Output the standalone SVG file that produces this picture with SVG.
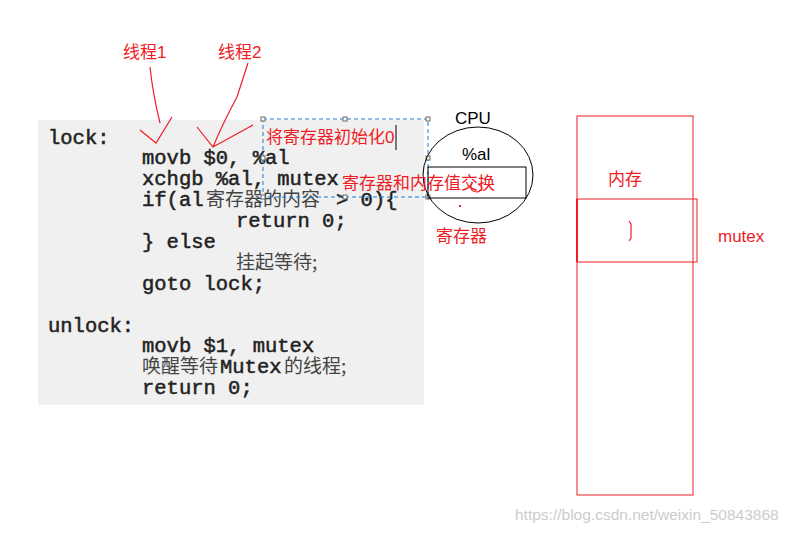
<svg xmlns="http://www.w3.org/2000/svg" width="797" height="534" viewBox="0 0 797 534">
<style>
.code{font-family:"Liberation Mono",monospace;font-size:20.5px;fill:#222;stroke:#222;stroke-width:0.5}
.cn{font-family:"Noto Sans CJK SC",sans-serif;font-size:19px;fill:#444}
.red{font-family:"Liberation Sans","Noto Sans CJK SC",sans-serif;font-size:17px;fill:#ee1c25}
.blk{font-family:"Liberation Sans",sans-serif;font-size:17px;fill:#000}
.rl{fill:none;stroke:#ee1c25;stroke-width:1.2}
.h{fill:#fff;stroke:#666;stroke-width:1}
</style>
<rect width="797" height="534" fill="#fff"/>
<g id="code">
<rect x="38" y="120" width="386" height="285" fill="#f0f0f0"/>
<text class="code" x="48" y="144">lock:</text>
<text class="code" x="142" y="164">movb $0, %al</text>
<text class="code" x="142" y="185">xchgb %al, mutex</text>
<text class="code" x="142" y="206">if(al</text>
<text class="cn" x="206" y="206">寄存器的内容</text>
<text class="code" x="336" y="206" fill="#666" stroke="#666">&gt; 0){</text>
<text class="code" x="236" y="227">return 0;</text>
<text class="code" x="142" y="248">} else</text>
<text class="cn" x="236" y="269">挂起等待;</text>
<text class="code" x="142" y="290">goto lock;</text>
<text class="code" x="48" y="332">unlock:</text>
<text class="code" x="142" y="352">movb $1, mutex</text>
<text class="cn" x="142" y="373">唤醒等待</text>
<text class="code" x="220" y="373">Mutex</text>
<text class="cn" x="284" y="373">的线程;</text>
<text class="code" x="142" y="394">return 0;</text>
</g>
<g id="threads">
<text class="red" x="123" y="58">线程1</text>
<text class="red" x="218" y="58">线程2</text>
</g>
<g id="connectors">
<path class="rl" d="M150 67 Q153 95 160 123 M140 130 L156 143 L172 117"/>
<path class="rl" d="M248 63 L237 97 Q222 125 213 147 M197 127 L213 147 L253 125"/>
</g>
<g id="selection">
<rect x="263" y="119" width="165" height="78" fill="none" stroke="#1a7ad4" stroke-dasharray="4,3"/>
<rect class="h" x="261" y="117" width="4" height="4"/><rect class="h" x="343" y="117" width="4" height="4"/><rect class="h" x="426" y="117" width="4" height="4"/>
<rect class="h" x="261" y="156" width="4" height="4"/><rect class="h" x="426" y="156" width="4" height="4"/>
<rect class="h" x="261" y="195" width="4" height="4"/><rect class="h" x="343" y="195" width="4" height="4"/><rect class="h" x="426" y="195" width="4" height="4"/>
<text class="red" x="266" y="143">将寄存器初始化0</text>
<line x1="396" y1="125" x2="396" y2="150" stroke="#000"/>
</g>
<g id="cpu">
<ellipse cx="478" cy="175" rx="55" ry="48" fill="none" stroke="#000"/>
<text class="blk" x="455" y="124">CPU</text>
<text class="blk" x="462" y="160">%al</text>
<rect x="428" y="167" width="98" height="31" fill="none" stroke="#000"/>
<path class="rl" d="M472 182 Q468 192 478 192 Q486 188 478 184"/>
<rect x="459" y="205" width="2" height="2" fill="#ee1c25"/>
<text class="red" x="436" y="242">寄存器</text>
</g>
<text class="red" x="342" y="189">寄存器和内存值交换</text>
<g id="memory">
<rect x="577" y="116" width="116" height="379" fill="none" stroke="#ee1c25"/>
<text class="red" x="608" y="185">内存</text>
</g>
<g id="mutex">
<rect x="577" y="199" width="120" height="63" fill="none" stroke="#ee1c25"/>
<line x1="577" y1="199" x2="577" y2="262" stroke="#ee1c25" stroke-width="2"/>
<path class="rl" d="M629 221 L631 224 L631 238 L629 241"/>
<text class="red" x="718" y="242">mutex</text>
</g>
<text x="515" y="520" font-family="Liberation Sans,sans-serif" font-size="15.5" fill="#ccc">https://blog.csdn.net/weixin_50843868</text>
</svg>
